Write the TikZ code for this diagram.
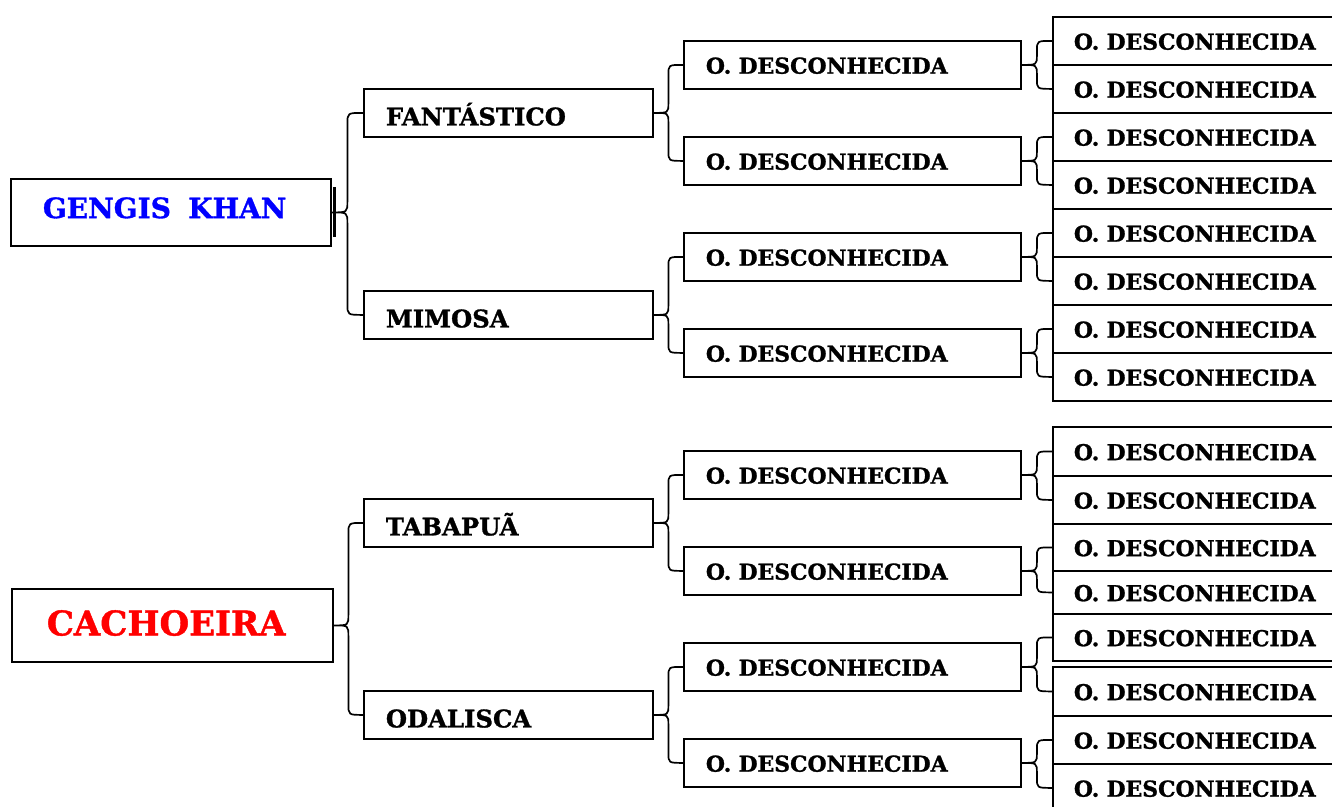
\documentclass[tikz,border=0pt]{standalone}
\usepackage{fontspec}
\setmainfont{DejaVu Serif}[BoldFeatures={FakeBold=1.2}]
\usetikzlibrary{calc}
\definecolor{gkblue}{RGB}{0,0,255}
\definecolor{cared}{RGB}{255,0,0}
\begin{document}
\begin{tikzpicture}[x=1pt,y=-1pt,
  boxbase/.style={draw=black, line width=1.8pt, anchor=north west, inner ysep=0pt, align=left},
  lvone/.style={boxbase},
  lvtwo/.style={boxbase, font=\fontsize{24.3}{26}\selectfont\bfseries, text width=245pt, inner xsep=22pt, minimum height=48pt, text height=25pt, text depth=0pt},
  lvthree/.style={boxbase, font=\fontsize{21.9}{23}\selectfont\bfseries, text width=293pt, inner xsep=22pt, minimum height=48pt, text height=17.5pt, text depth=0pt},
  lvfour/.style={boxbase, font=\fontsize{21.9}{23}\selectfont\bfseries, text width=258pt, inner xsep=21pt, text height=17.5pt, text depth=0pt},
  bracelink/.style={line width=1.7pt, to path={let \p1=(\tikztostart), \p2=(\tikztotarget), \n1={0.5*\x1+0.5*\x2}, \n2={ifthenelse(\y2>\y1,#1,-#1)} in .. controls (\n1,\y1) .. (\n1,\y1+\n2) -- (\n1,\y2-\n2) .. controls (\n1,\y2) .. (\p2)}},
  bracelink/.default=10
]
\useasboundingbox (0,0) rectangle (1332,806);
\clip (0,0) rectangle (1332,806);

% level 1
\node[lvone, font=\fontsize{28}{30}\selectfont\bfseries, text=gkblue, text width=256pt, inner xsep=32pt, minimum height=67pt, text height=20.4pt, text depth=9pt] (gk) at (10,178) {GENGIS~\hspace{8pt}KHAN};
\node[lvone, font=\fontsize{34}{36}\selectfont\bfseries, text=cared, text width=251pt, inner xsep=35pt, minimum height=73pt, text height=25pt, text depth=5pt] (ca) at (11,588) {CACHOEIRA};
\draw[line width=3pt] ([shift={(2.5,-25)}]gk.east) -- ([shift={(2.5,25)}]gk.east);

% level 2
\node[lvtwo] (fan) at (363,88) {FANTÁSTICO};
\node[lvtwo] (mim) at (363,290) {MIMOSA};
\node[lvtwo] (tab) at (363,498) {TABAPUÃ};
\node[lvtwo] (oda) at (363,690) {ODALISCA};

% level 3
\foreach \n/\y in {t1/40,t2/136,t3/232,t4/328,b1/450,b2/546,b3/642,b4/738}
  \node[lvthree] (\n) at (683,\y) {O. DESCONHECIDA};

% level 4
\foreach \i in {1,...,8}
  \node[lvfour, minimum height=48pt] (tf\i) at (1052,{16+48*(\i-1)}) {O. DESCONHECIDA};
\foreach \i/\y/\h in {1/426/49,2/475/48,3/523/47,4/570/43,5/613/47,6/666/49,7/715/48,8/763/48}
  \node[lvfour, minimum height=\h pt] (bf\i) at (1052,\y) {O. DESCONHECIDA};

% braces level 1 -> 2
\draw[bracelink=11] (gk.east) to (fan.west) (gk.east) to (mim.west);
\draw[bracelink=11] (ca.east) to (tab.west) (ca.east) to (oda.west);
% level 2 -> 3
\draw[bracelink] (fan.east) to (t1.west) (fan.east) to (t2.west);
\draw[bracelink] (mim.east) to (t3.west) (mim.east) to (t4.west);
\draw[bracelink] (tab.east) to (b1.west) (tab.east) to (b2.west);
\draw[bracelink] (oda.east) to (b3.west) (oda.east) to (b4.west);
% level 3 -> 4
\draw[bracelink] (t1.east) to (tf1.west) (t1.east) to (tf2.west);
\draw[bracelink] (t2.east) to (tf3.west) (t2.east) to (tf4.west);
\draw[bracelink] (t3.east) to (tf5.west) (t3.east) to (tf6.west);
\draw[bracelink] (t4.east) to (tf7.west) (t4.east) to (tf8.west);
\draw[bracelink] (b1.east) to (bf1.west) (b1.east) to (bf2.west);
\draw[bracelink] (b2.east) to (bf3.west) (b2.east) to (bf4.west);
\draw[bracelink] (b3.east) to (bf5.west) (b3.east) to (bf6.west);
\draw[bracelink] (b4.east) to (bf7.west) (b4.east) to (bf8.west);
\end{tikzpicture}
\end{document}
